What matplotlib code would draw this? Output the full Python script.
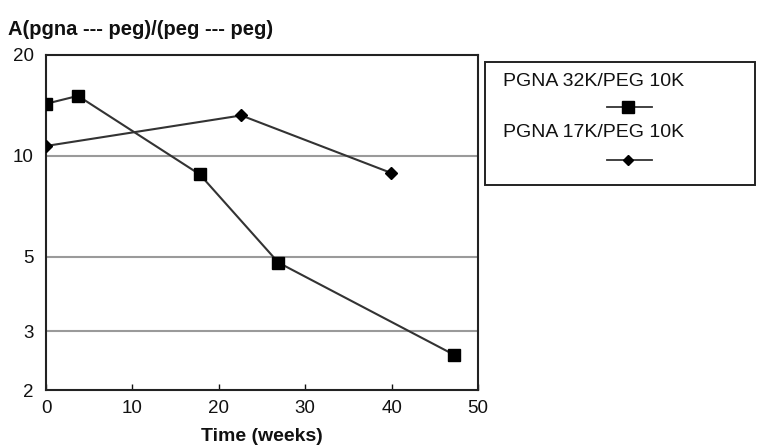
import matplotlib.pyplot as plt
from matplotlib.lines import Line2D
from matplotlib.patches import Rectangle
from matplotlib.ticker import FixedLocator, NullFormatter, NullLocator

plt.rcParams['font.family'] = ['Liberation Sans', 'DejaVu Sans']

# data
weeks_32k = [0, 3.7, 17.8, 26.9, 47.2]
ratio_32k = [14.3, 15.1, 8.8, 4.8, 2.55]
weeks_17k = [0, 22.6, 39.9]
ratio_17k = [10.7, 13.2, 8.9]
labels = ['PGNA 32K/PEG 10K', 'PGNA 17K/PEG 10K']
y_ticks = [2, 3, 5, 10, 20]
x_ticks = [0, 10, 20, 30, 40, 50]
grid_levels = [3, 5, 10]


def main() -> None:
    fig = plt.figure(figsize=(7.63, 4.47), dpi=100)
    ax = fig.add_axes([0.0603, 0.1275, 0.5662, 0.7495])
    ax.set_yscale('log')
    ax.set_xlim(0, 50)
    ax.set_ylim(2, 20)

    for g in grid_levels:
        ax.axhline(g, color='#9a9a9a', lw=1.5, zorder=1)

    ax.plot(weeks_32k, ratio_32k, color='#333333', lw=1.5, marker='s',
            ms=9, mfc='black', mec='black', zorder=3)
    ax.plot(weeks_17k, ratio_17k, color='#333333', lw=1.5, marker='D',
            ms=6, mfc='black', mec='black', zorder=3)

    ax.yaxis.set_major_locator(FixedLocator(y_ticks))
    ax.yaxis.set_minor_locator(NullLocator())
    ax.yaxis.set_minor_formatter(NullFormatter())
    ax.set_yticklabels([str(t) for t in y_ticks])
    ax.set_xticks(x_ticks)
    ax.tick_params(axis='both', direction='in', length=4, width=1,
                   labelsize=13.5, colors='#111111')
    ax.tick_params(axis='y', length=0, pad=9)
    ax.tick_params(axis='x', pad=7)
    for s in ax.spines.values():
        s.set_linewidth(1.5)
        s.set_color('#222222')

    ax.set_xlabel('Time (weeks)', fontsize=14, fontweight='bold', labelpad=8,
                  color='#111111')
    fig.text(0.011, 0.935, 'A(pgna --- peg)/(peg --- peg)', fontsize=14.5,
             fontweight='bold', color='#111111', va='center')

    # legend box, text over marker
    fig.patches.append(Rectangle((0.636, 0.586), 0.354, 0.275, transform=fig.transFigure,
                                 fill=False, lw=1.4, ec='#222222'))
    items = [('s', 8), ('D', 5)]
    text_y = [0.817, 0.703]
    mark_y = [0.761, 0.642]
    for lab, (m, ms), ty, my in zip(labels, items, text_y, mark_y):
        fig.text(0.659, ty, lab, fontsize=14, color='#111111', va='center')
        fig.lines.append(Line2D([0.795, 0.823, 0.855], [my, my, my], transform=fig.transFigure,
                                color='#333333', lw=1.3, marker=m, markevery=[1],
                                ms=ms, mfc='black', mec='black'))

    fig.savefig('out.png', dpi=100)


if __name__ == "__main__":
    main()
